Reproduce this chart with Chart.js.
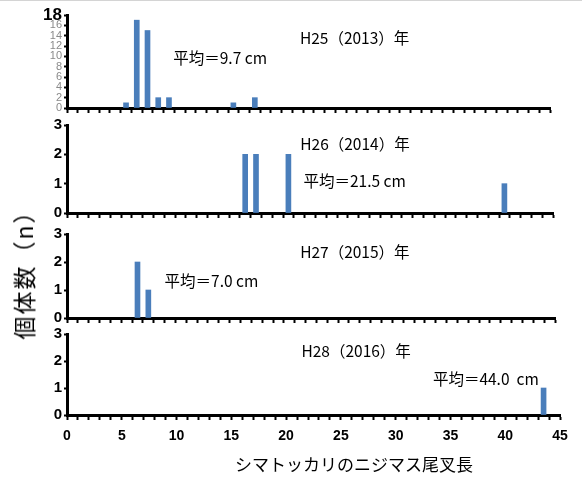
<!DOCTYPE html>
<html>
<head>
<meta charset="utf-8">
<script src="https://cdn.jsdelivr.net/npm/chart.js@4.4.1/dist/chart.umd.min.js"></script>
<style>
  html, body { margin: 0; padding: 0; background: #fff; }
  #wrap { position: relative; width: 582px; height: 477px; overflow: hidden; }
  #wrap canvas { position: absolute; left: 0; top: 0; }
  #topline { position: absolute; left: 0; top: 0; width: 582px; height: 1px; background: #d4d4d4; }
  .lbl { position: absolute; font-family: "Noto Sans CJK JP", sans-serif; color: #000; white-space: nowrap; }
  #ytitle { left: 23px; top: 269px; font-size: 23px; letter-spacing: 2px; transform: translate(-50%, -50%) rotate(-90deg); }
  #xtitle { left: 354px; top: 463px; font-size: 17px; transform: translate(-50%, -50%); }
</style>
</head>
<body>
<div id="wrap">
  <div id="topline"></div>
  <canvas id="c0" width="582" height="477"></canvas>
  <canvas id="c1" width="582" height="477"></canvas>
  <canvas id="c2" width="582" height="477"></canvas>
  <canvas id="c3" width="582" height="477"></canvas>
  <div class="lbl" id="ytitle">個体数（n）</div>
  <div class="lbl" id="xtitle">シマトッカリのニジマス尾叉長</div>
</div>
<script>
// fork length (cm, bin centre) and number of fish, one pair per year
const h25Len = [5.5, 6.5, 7.5, 8.5, 9.5, 15.5, 17.5];
const h25Count = [1, 17, 15, 2, 2, 1, 2];
const h26Len = [16.5, 17.5, 20.5, 40.5];
const h26Count = [2, 2, 2, 1];
const h27Len = [6.5, 7.5];
const h27Count = [2, 1];
const h28Len = [43.5];
const h28Count = [1];

const yearLabels = ['H25（2013）年', 'H26（2014）年', 'H27（2015）年', 'H28（2016）年'];
const meanLabels = ['平均＝9.7 cm', '平均＝21.5 cm', '平均＝7.0 cm', '平均＝44.0  cm'];
const lengthTicks = [0, 5, 10, 15, 20, 25, 30, 35, 40, 45];

const barColor = '#4A7EBB';

// layout of each panel (plot area in px) and where its notes sit (in data units)
const panels = [
  { id: 'c0', len: h25Len, cnt: h25Count, yMax: 18, yStep: 2, area: { l: 67, t: 15, r: 550, b: 108 },
    xH: 6, xLabels: false, yearAt: [21.7, 13.6], meanAt: [9.9, 9.6], bigTop: true },
  { id: 'c1', len: h26Len, cnt: h26Count, yMax: 3, yStep: 1, area: { l: 67, t: 125, r: 553, b: 213 },
    xH: 6, xLabels: false, yearAt: [21.6, 2.35], meanAt: [21.9, 1.09] },
  { id: 'c2', len: h27Len, cnt: h27Count, yMax: 3, yStep: 1, area: { l: 67, t: 234, r: 555, b: 318 },
    xH: 6, xLabels: false, yearAt: [21.5, 2.36], meanAt: [9.0, 1.33] },
  { id: 'c3', len: h28Len, cnt: h28Count, yMax: 3, yStep: 1, area: { l: 67, t: 334, r: 560, b: 415 },
    xH: 32, xLabels: true, yearAt: [21.4, 2.37], meanAt: [33.4, 1.33] }
];

panels.forEach((p, i) => {
  const notes = {
    id: 'notes',
    afterDraw(chart) {
      const ctx = chart.ctx;
      const xs = chart.scales.x, ys = chart.scales.y;
      ctx.save();
      ctx.fillStyle = '#000';
      ctx.font = '15.5px "Noto Sans CJK JP"';
      ctx.textAlign = 'left';
      ctx.textBaseline = 'middle';
      ctx.fillText(yearLabels[i], xs.getPixelForValue(p.yearAt[0]), ys.getPixelForValue(p.yearAt[1]));
      ctx.fillText(meanLabels[i], xs.getPixelForValue(p.meanAt[0]), ys.getPixelForValue(p.meanAt[1]));
      ctx.restore();
    }
  };

  // small grey labels on the first panel, except its top value
  const isSmall = c => p.bigTop && !(c.tick && c.tick.value === p.yMax);

  new Chart(document.getElementById(p.id), {
    type: 'bar',
    data: {
      datasets: [{
        data: p.len.map((x, k) => ({ x: x, y: p.cnt[k] })),
        backgroundColor: barColor,
        borderWidth: 0,
        barThickness: 5
      }]
    },
    options: {
      responsive: false,
      animation: false,
      layout: { padding: { left: 0, top: p.area.t, right: 582 - p.area.r, bottom: 477 - p.area.b - p.xH } },
      plugins: { legend: { display: false }, tooltip: { enabled: false } },
      scales: {
        x: {
          type: 'linear',
          min: 0,
          max: 45,
          offset: false,
          afterFit: s => { s.height = p.xH; },
          ticks: {
            stepSize: 1,
            autoSkip: false,
            maxRotation: 0,
            padding: 8,
            color: '#000',
            font: { family: 'Liberation Sans', size: 14, weight: 'bold' },
            callback: v => (p.xLabels && lengthTicks.includes(v)) ? String(v) : ''
          },
          grid: { offset: false, drawOnChartArea: false, drawTicks: true, tickLength: 5, tickWidth: 2, tickColor: '#000' },
          border: { display: true, color: '#000', width: 3 }
        },
        y: {
          min: 0,
          max: p.yMax,
          afterFit: s => { s.width = p.area.l; },
          ticks: {
            stepSize: p.yStep,
            autoSkip: false,
            padding: 2,
            color: c => isSmall(c) ? '#8a8a8a' : '#000',
            font: c => isSmall(c)
              ? { family: 'Liberation Sans', size: 11 }
              : { family: 'Liberation Sans', size: p.bigTop ? 17 : 15, weight: 'bold' }
          },
          grid: { drawOnChartArea: false, drawTicks: true, tickLength: 3, tickWidth: 2, tickColor: '#000' },
          border: { display: true, color: '#000', width: 3 }
        }
      }
    },
    plugins: [notes]
  });
});
</script>
</body>
</html>
